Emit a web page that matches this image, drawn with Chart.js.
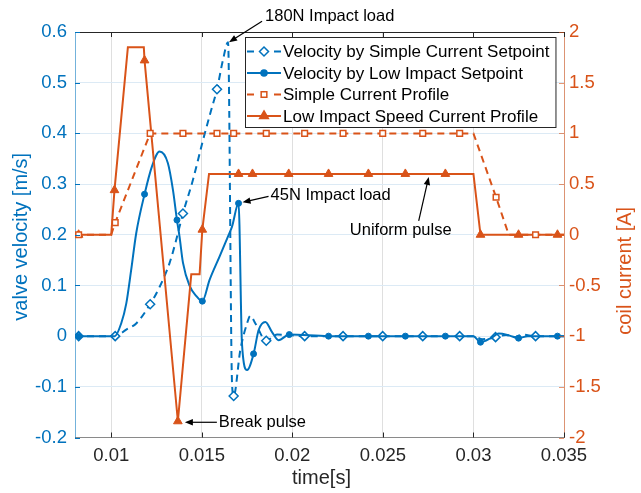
<!DOCTYPE html>
<html><head><meta charset="utf-8">
<script src="https://cdn.jsdelivr.net/npm/chart.js@4/dist/chart.umd.min.js"></script>
<style>html,body{margin:0;padding:0;background:#fff}</style>
</head><body>
<canvas id="c" width="641" height="493"></canvas>
<script>
// ---------- data ----------
const xTicks = [0.01, 0.015, 0.02, 0.025, 0.03, 0.035];
const yLeftTicks = [-0.2, -0.1, 0, 0.1, 0.2, 0.3, 0.4, 0.5, 0.6];
const yRightTicks = [-2, -1.5, -1, -0.5, 0, 0.5, 1, 1.5, 2];

const seriesNames = ['Velocity by Simple Current Setpoint', 'Velocity by Low Impact Setpoint',
                     'Simple Current Profile', 'Low Impact Speed Current Profile'];

// Velocity by Simple Current Setpoint [m/s]
const velSimpleT = [0.008, 0.0082, 0.01022, 0.01083, 0.01138, 0.01215, 0.01267, 0.01322, 0.01359, 0.01396,
  0.01451, 0.01507, 0.01552, 0.01584, 0.01617, 0.01645, 0.01667, 0.01676, 0.01713, 0.0175, 0.01768, 0.01796,
  0.01856, 0.01916, 0.02068, 0.0228, 0.02499, 0.0272, 0.02924, 0.0300, 0.0305, 0.0310, 0.03122, 0.0318,
  0.0323, 0.0327, 0.03343, 0.035];
const velSimpleV = [0, 0, 0, 0.013, 0.025, 0.063, 0.097, 0.144, 0.19, 0.242,
  0.308, 0.387, 0.446, 0.487, 0.545, 0.58, -0.093, -0.118, -0.027, 0.025, 0.04, 0.025,
  -0.009, 0.003, 0, 0, 0, 0, 0, 0, -0.006, -0.004, -0.002, 0.002,
  -0.002, 0.003, 0, 0];
const velSimpleMark = [0, 1, 1, 0, 0, 1, 0, 0, 0, 1,
  0, 0, 0, 1, 0, 0, 0, 1, 0, 0, 0, 0,
  1, 0, 1, 1, 1, 1, 1, 0, 0, 0, 1, 0,
  0, 0, 1, 0];

// Velocity by Low Impact Setpoint [m/s]
const velLowT = [0.008, 0.0082, 0.0102, 0.01055, 0.01083, 0.0111, 0.01138, 0.01184, 0.01225, 0.01267,
  0.01313, 0.01341, 0.01363, 0.01377, 0.01396, 0.01433, 0.0147, 0.01503, 0.01543, 0.01598, 0.01645,
  0.01667, 0.01703, 0.01722, 0.0175, 0.01786, 0.01814, 0.01851, 0.01888, 0.01924, 0.01983, 0.022,
  0.0242, 0.02624, 0.02845, 0.0300, 0.03039, 0.0310, 0.0314, 0.0320, 0.03249, 0.0330, 0.03464, 0.035];
const velLowV = [0, 0, 0, 0.025, 0.064, 0.13, 0.203, 0.28, 0.335, 0.364,
  0.341, 0.288, 0.229, 0.197, 0.145, 0.099, 0.079, 0.069, 0.111, 0.157, 0.197,
  0.216, 0.262, -0.015, -0.067, -0.035, 0.012, 0.028, 0.008, -0.008, 0.003, 0,
  0, 0, 0, 0, -0.012, -0.003, 0.005, 0.001, -0.004, 0, 0, 0];
const velLowMark = [0, 1, 0, 0, 0, 0, 0, 1, 0, 0,
  0, 0, 1, 0, 0, 0, 0, 1, 0, 0, 0,
  0, 1, 0, 0, 1, 0, 0, 0, 0, 1, 1,
  1, 1, 1, 0, 1, 0, 0, 0, 1, 0, 1, 0];

// Simple Current Profile [A]
const curSimpleT = [0.008, 0.0082, 0.0100, 0.01022, 0.01215, 0.01396, 0.01584, 0.01676, 0.01856, 0.02068,
  0.0228, 0.02499, 0.0272, 0.02924, 0.0300, 0.03125, 0.03195, 0.03343, 0.035];
const curSimpleI = [0, 0, 0, 0.12, 1, 1, 1, 1, 1, 1,
  1, 1, 1, 1, 1, 0.37, 0, 0, 0];
const curSimpleMark = [0, 1, 0, 1, 1, 1, 1, 1, 1, 1,
  1, 1, 1, 1, 0, 1, 0, 1, 0];

// Low Impact Speed Current Profile [A]
const curLowT = [0.008, 0.0082, 0.0100, 0.01018, 0.01092, 0.0118, 0.01184, 0.01368, 0.01442, 0.01488,
  0.01503, 0.0154, 0.01703, 0.0178, 0.0198, 0.022, 0.0242, 0.02624, 0.02845, 0.0300, 0.03039,
  0.03249, 0.03464, 0.035];
const curLowI = [0, 0, 0, 0.44, 1.85, 1.85, 1.72, -1.84, -0.39, -0.39,
  0.05, 0.6, 0.6, 0.6, 0.6, 0.6, 0.6, 0.6, 0.6, 0.6, 0,
  0, 0, 0];
const curLowMark = [0, 1, 0, 1, 0, 0, 1, 1, 0, 0,
  1, 0, 1, 1, 1, 1, 1, 1, 1, 0, 1,
  1, 1, 0];

// text annotations (target point in data units)
const annotTexts = ['180N Impact load', '45N Impact load', 'Uniform pulse', 'Break pulse'];
const annotTargetX = [0.01645, 0.01703, 0.02753, 0.01368];
const annotTargetY = [0.58, 0.262, 0.6, -1.84];
const annotAxis = ['y', 'y', 'y1', 'y1'];

// ---------- styling ----------
const BLUE = '#0072BD', ORANGE = '#D95319', DARK = '#262626';
const FONT = '"Liberation Sans", Arial, Helvetica, sans-serif';
const annotLayout = [
  {tip: [1, 0], from: [34, -21], text: [37, -26], align: 'left'},
  {tip: [4, -1], from: [30, -7], text: [32, -8], align: 'left'},
  {tip: [0, 3], from: [-10, 47], text: [-28, 57], align: 'center'},
  {tip: [7, 1], from: [39, 1], text: [41, 1], align: 'left'}
];

const pts = (t, v) => t.map((x, i) => ({x: x, y: v[i]}));
const radiusBy = (flags, r) => (ctx) => flags[ctx.dataIndex] ? r : 0;

const datasets = [
  {label: seriesNames[0], data: pts(velSimpleT, velSimpleV), yAxisID: 'y', borderColor: BLUE,
   borderWidth: 2, borderDash: [7, 5], cubicInterpolationMode: 'monotone', pointStyle: 'rectRot',
   pointRadius: radiusBy(velSimpleMark, 4.5), pointBackgroundColor: '#fff', pointBorderColor: BLUE,
   pointBorderWidth: 1.5, markerSize: 4.5, markerFill: '#fff', order: 2},
  {label: seriesNames[1], data: pts(velLowT, velLowV), yAxisID: 'y', borderColor: BLUE,
   borderWidth: 2, cubicInterpolationMode: 'monotone', pointStyle: 'circle',
   pointRadius: radiusBy(velLowMark, 3), pointBackgroundColor: BLUE, pointBorderColor: BLUE,
   pointBorderWidth: 1, markerSize: 3, markerFill: BLUE, order: 1},
  {label: seriesNames[2], data: pts(curSimpleT, curSimpleI), yAxisID: 'y1', borderColor: ORANGE,
   borderWidth: 2, borderDash: [7, 5], tension: 0, pointStyle: 'rect',
   pointRadius: radiusBy(curSimpleMark, 4), pointBackgroundColor: '#fff', pointBorderColor: ORANGE,
   pointBorderWidth: 1.5, markerSize: 4, markerFill: '#fff', order: 0},
  {label: seriesNames[3], data: pts(curLowT, curLowI), yAxisID: 'y1', borderColor: ORANGE,
   borderWidth: 2, tension: 0, pointStyle: 'triangle',
   pointRadius: radiusBy(curLowMark, 5), pointBackgroundColor: ORANGE, pointBorderColor: ORANGE,
   pointBorderWidth: 1, markerSize: 5, markerFill: ORANGE, order: 0}
];

function drawMarker(ctx, style, x, y, r, fill, stroke) {
  ctx.save();
  ctx.fillStyle = fill; ctx.strokeStyle = stroke; ctx.lineWidth = 1.5; ctx.setLineDash([]);
  ctx.beginPath();
  if (style === 'circle') { ctx.arc(x, y, r, 0, Math.PI * 2); }
  else if (style === 'rect') { const s = r * Math.SQRT1_2; ctx.rect(x - s, y - s, 2 * s, 2 * s); }
  else if (style === 'rectRot') { ctx.moveTo(x, y - r); ctx.lineTo(x + r, y); ctx.lineTo(x, y + r); ctx.lineTo(x - r, y); ctx.closePath(); }
  else if (style === 'triangle') { const h = r * 1.5; ctx.moveTo(x, y - r); ctx.lineTo(x + r * 0.87, y + r * 0.5); ctx.lineTo(x - r * 0.87, y + r * 0.5); ctx.closePath(); }
  ctx.fill(); ctx.stroke();
  ctx.restore();
}

const decorations = {
  id: 'decorations',
  afterDatasetsDraw(chart) {
    const {ctx, chartArea: ca, scales} = chart;
    ctx.save();
    // box top line + inner ticks
    ctx.lineWidth = 1;
    ctx.strokeStyle = DARK;
    ctx.beginPath(); ctx.moveTo(ca.left, ca.top + 0.5); ctx.lineTo(ca.right, ca.top + 0.5); ctx.stroke();
    xTicks.forEach(v => {
      const px = Math.round(scales.x.getPixelForValue(v)) + 0.5;
      ctx.beginPath(); ctx.moveTo(px, ca.bottom); ctx.lineTo(px, ca.bottom - 5);
      ctx.moveTo(px, ca.top); ctx.lineTo(px, ca.top + 5); ctx.stroke();
    });
    ctx.strokeStyle = BLUE;
    yLeftTicks.forEach(v => {
      const py = Math.round(scales.y.getPixelForValue(v)) + 0.5;
      ctx.beginPath(); ctx.moveTo(ca.left, py); ctx.lineTo(ca.left + 5, py); ctx.stroke();
    });
    ctx.strokeStyle = 'rgba(217,83,25,0.6)';
    yRightTicks.forEach(v => {
      const py = Math.round(scales.y1.getPixelForValue(v)) + 0.5;
      ctx.beginPath(); ctx.moveTo(ca.right, py); ctx.lineTo(ca.right - 5, py); ctx.stroke();
    });

    // annotations
    ctx.font = '16.5px ' + FONT;
    ctx.textBaseline = 'middle';
    annotTexts.forEach((txt, i) => {
      const L = annotLayout[i];
      const tx = scales.x.getPixelForValue(annotTargetX[i]);
      const ty = scales[annotAxis[i]].getPixelForValue(annotTargetY[i]);
      const x1 = tx + L.tip[0], y1 = ty + L.tip[1];
      const x0 = tx + L.from[0], y0 = ty + L.from[1];
      const ang = Math.atan2(y1 - y0, x1 - x0);
      const hl = 8, hw = 3.2;
      ctx.strokeStyle = '#000'; ctx.fillStyle = '#000'; ctx.lineWidth = 1.2;
      ctx.beginPath(); ctx.moveTo(x0, y0);
      ctx.lineTo(x1 - Math.cos(ang) * hl * 0.8, y1 - Math.sin(ang) * hl * 0.8); ctx.stroke();
      ctx.beginPath();
      ctx.moveTo(x1, y1);
      ctx.lineTo(x1 - Math.cos(ang) * hl - Math.sin(ang) * hw, y1 - Math.sin(ang) * hl + Math.cos(ang) * hw);
      ctx.lineTo(x1 - Math.cos(ang) * hl + Math.sin(ang) * hw, y1 - Math.sin(ang) * hl - Math.cos(ang) * hw);
      ctx.closePath(); ctx.fill();
      ctx.textAlign = L.align;
      ctx.fillText(txt, tx + L.text[0], ty + L.text[1]);
    });

    // legend (MATLAB style, inside the axes, top right)
    ctx.font = '17px ' + FONT;
    ctx.textAlign = 'left';
    const ds = chart.data.datasets;
    const tw = Math.max(...ds.map(d => ctx.measureText(d.label).width));
    const w = 38 + tw + 6, h = 90;
    const lx = Math.round(ca.right - 9 - w), ly = Math.round(ca.top + 5);
    ctx.fillStyle = '#fff'; ctx.fillRect(lx, ly, w, h);
    ctx.strokeStyle = DARK; ctx.lineWidth = 1; ctx.strokeRect(lx + 0.5, ly + 0.5, w, h);
    ds.forEach((d, k) => {
      const cy = ly + 14.5 + k * 21.5;
      ctx.strokeStyle = d.borderColor; ctx.lineWidth = 2; ctx.setLineDash([]);
      ctx.beginPath();
      if (d.borderDash) {
        ctx.moveTo(lx + 2, cy); ctx.lineTo(lx + 9, cy);
        ctx.moveTo(lx + 29, cy); ctx.lineTo(lx + 36, cy);
      } else {
        ctx.moveTo(lx + 2, cy); ctx.lineTo(lx + 36, cy);
      }
      ctx.stroke();
      drawMarker(ctx, d.pointStyle, lx + 19, cy, d.markerSize, d.markerFill, d.borderColor);
      ctx.fillStyle = '#000';
      ctx.fillText(d.label, lx + 38, cy + 1);
    });

    // axis titles
    ctx.font = '20px ' + FONT;
    ctx.textAlign = 'center';
    ctx.fillStyle = DARK;
    ctx.fillText('time[s]', (ca.left + ca.right) / 2 + 2, 478);
    ctx.save(); ctx.translate(21, (ca.top + ca.bottom) / 2 + 2); ctx.rotate(-Math.PI / 2);
    ctx.fillStyle = BLUE; ctx.fillText('valve velocity [m/s]', 0, 0); ctx.restore();
    ctx.save(); ctx.translate(625, (ca.top + ca.bottom) / 2 + 36); ctx.rotate(-Math.PI / 2);
    ctx.fillStyle = ORANGE; ctx.fillText('coil current [A]', 0, 0); ctx.restore();
    ctx.restore();
  }
};

const tickFont = {family: FONT, size: 18.5};

new Chart(document.getElementById('c'), {
  type: 'line',
  data: {datasets: datasets},
  options: {
    responsive: false, animation: false, devicePixelRatio: 1,
    layout: {padding: {top: 32, left: 0, right: 0, bottom: 0}},
    plugins: {legend: {display: false}, tooltip: {enabled: false}},
    scales: {
      x: {
        type: 'linear', position: 'bottom', min: 0.008, max: 0.035,
        afterBuildTicks: s => { s.ticks = xTicks.map(v => ({value: v})); },
        afterFit: s => { s.height = 55.5; },
        ticks: {callback: v => String(v), font: tickFont, color: DARK, padding: 7, maxRotation: 0, autoSkip: false},
        grid: {color: '#DFDFDF', lineWidth: 1, drawTicks: false},
        border: {color: '#8a8a8a', width: 1},
        title: {display: false}
      },
      y: {
        type: 'linear', position: 'left', min: -0.2, max: 0.6,
        afterBuildTicks: s => { s.ticks = yLeftTicks.map(v => ({value: v})); },
        afterFit: s => { s.width = 75; },
        ticks: {callback: v => String(Math.round(v * 10) / 10), font: tickFont, color: BLUE, padding: 8, autoSkip: false},
        grid: {color: '#DCEAF5', lineWidth: 1, drawTicks: false},
        border: {color: 'rgba(0,114,189,0.55)', width: 1}
      },
      y1: {
        type: 'linear', position: 'right', min: -2, max: 2,
        afterBuildTicks: s => { s.ticks = yRightTicks.map(v => ({value: v})); },
        afterFit: s => { s.width = 77; },
        ticks: {callback: v => String(v), font: tickFont, color: ORANGE, padding: 5, autoSkip: false},
        grid: {drawOnChartArea: false, drawTicks: false},
        border: {color: 'rgba(217,83,25,0.55)', width: 1}
      }
    }
  },
  plugins: [decorations]
});
</script>
</body></html>
